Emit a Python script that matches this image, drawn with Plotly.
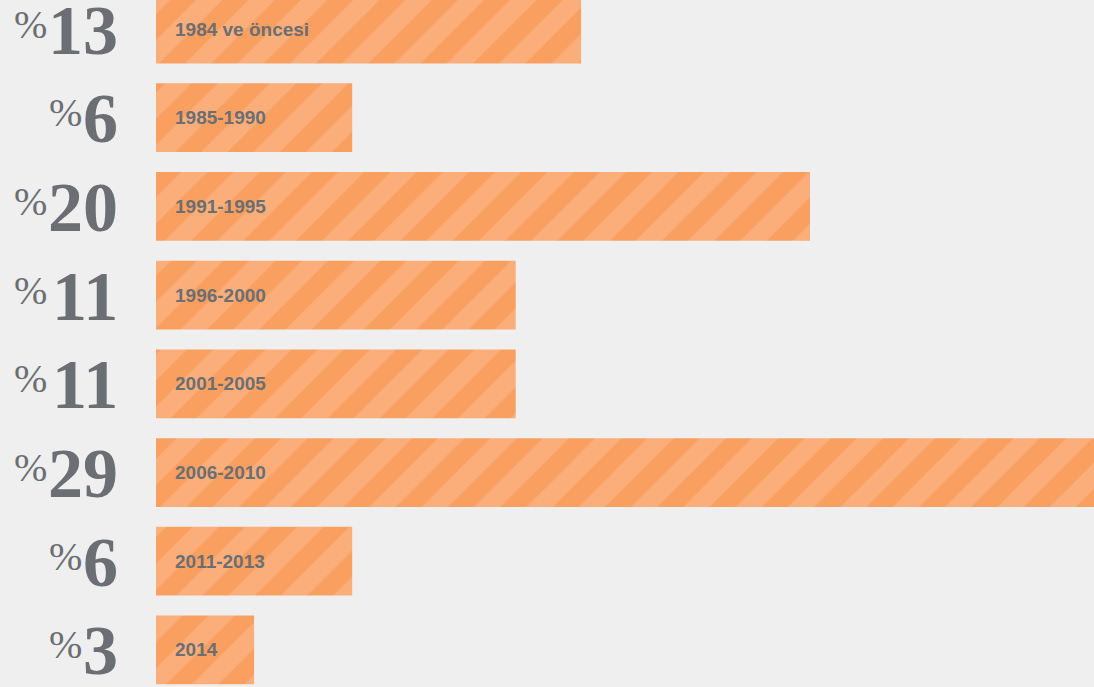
import plotly.graph_objects as go

# share of buildings by construction period (Turkish labels kept as-is)
periods = ["1984 ve öncesi", "1985-1990", "1991-1995", "1996-2000",
           "2001-2005", "2006-2010", "2011-2013", "2014"]
shares = [13, 6, 20, 11, 11, 29, 6, 3]

BG = "#EEEFEE"
GREY = "#6B6E73"
ORANGE = "#F9A061"
STRIPE = "#FBAE79"

PX = 32.7          # pixels per percentage point
X0 = 156           # pixel where the bars start
NUM_RIGHT = 120    # right edge of the big numbers
NUM_SIZE = 70

rows = list(range(len(periods)))


def px2x(p):
    return (p - X0) / PX


fig = go.Figure(go.Bar(
    x=shares, y=rows, orientation="h", width=0.775,
    marker=dict(color=ORANGE, line=dict(width=0),
                pattern=dict(shape="/", size=37, solidity=0.5,
                             fgcolor=STRIPE, bgcolor=ORANGE, fillmode="replace")),
    hoverinfo="skip"))

for r, p, s in zip(rows, periods, shares):
    # period label inside the bar
    fig.add_annotation(x=px2x(173), y=r, text=f"<b>{p}</b>", showarrow=False,
                       xanchor="left", yanchor="middle",
                       font=dict(family="Liberation Sans, Arial", size=19, color=GREY))
    # big serif number to the left
    fig.add_annotation(x=px2x(NUM_RIGHT), y=r, text=f"<b>{s}</b>", showarrow=False,
                       xanchor="right", yanchor="middle", yshift=-1,
                       font=dict(family="Liberation Serif, Times New Roman",
                                 size=NUM_SIZE, color=GREY))
    # smaller raised percent sign in front of it (Times digits are 0.5em wide)
    left = NUM_RIGHT - 0.5 * NUM_SIZE * len(str(s)) - 1
    fig.add_annotation(x=px2x(left), y=r, text="%", showarrow=False,
                       xanchor="right", yanchor="middle", yshift=5,
                       font=dict(family="Liberation Serif, Times New Roman",
                                 size=40, color=GREY))

fig.update_layout(
    width=1094, height=687, margin=dict(l=0, r=0, t=0, b=0),
    paper_bgcolor=BG, plot_bgcolor=BG, showlegend=False,
    xaxis=dict(range=[px2x(0), px2x(1094)], visible=False, fixedrange=True),
    yaxis=dict(range=[7.418, -0.327], visible=False, fixedrange=True),
)

fig.write_html("out.html", config={"displayModeBar": False},
               post_script="document.body.style.margin='0';")
